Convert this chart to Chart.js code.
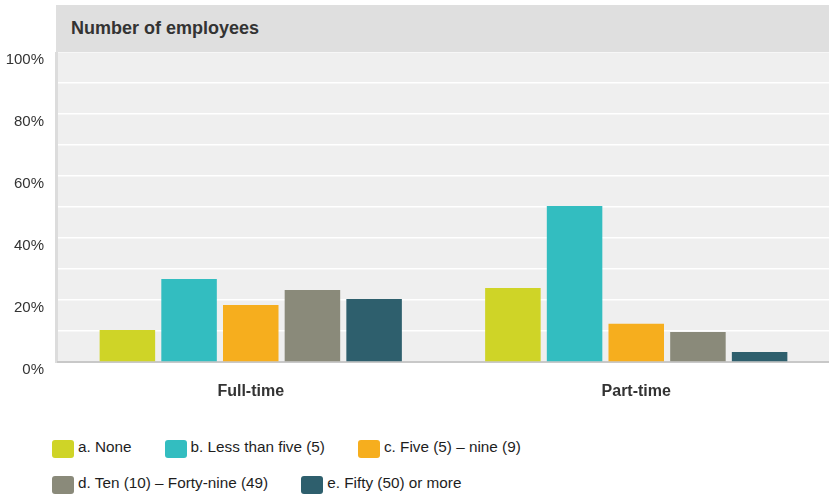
<!DOCTYPE html>
<html>
<head>
<meta charset="utf-8">
<script src="https://cdn.jsdelivr.net/npm/chart.js@4/dist/chart.umd.min.js"></script>
<style>
  body { margin: 0; background: #fff; font-family: "Liberation Sans", Arial, sans-serif; }
  #wrap { position: relative; width: 829px; height: 495px; }
  #box { position: absolute; left: 0; top: 0; width: 829px; height: 410px; }
  #title {
    position: absolute; left: 56px; top: 5px; width: 773px; height: 47px;
    background: #dfdfdf; color: #333; font-weight: bold; font-size: 18px;
    line-height: 47px; padding-left: 15px; box-sizing: border-box;
  }
  #legend {
    position: absolute; left: 52px; top: 436px; width: 580px;
    display: flex; flex-wrap: wrap; row-gap: 14px;
  }
  .item { display: flex; align-items: center; margin-right: 33px; height: 22px; font-size: 15.3px; color: #1e1e1e; }
  .swatch { width: 22px; height: 18px; border-radius: 3px; margin-right: 4px; margin-top: 4px; }
</style>
</head>
<body>
<div id="wrap">
  <div id="box"><canvas id="chart"></canvas></div>
  <div id="title">Number of employees</div>
  <div id="legend"></div>
</div>
<script>
var categories = ['Full-time', 'Part-time'];
var seriesNames = ['a. None', 'b. Less than five (5)', 'c. Five (5) \u2013 nine (9)',
                   'd. Ten (10) \u2013 Forty-nine (49)', 'e. Fifty (50) or more'];
var seriesColors = ['#cfd427', '#33bdc0', '#f6ae1e', '#8a8a7a', '#2e5f6d'];

var noneVals = [10.3, 23.9];
var lessFiveVals = [26.8, 50.3];
var fiveNineVals = [18.4, 12.3];
var tenFortyNineVals = [23.2, 9.7];
var fiftyPlusVals = [20.3, 3.2];

var allVals = [noneVals, lessFiveVals, fiveNineVals, tenFortyNineVals, fiftyPlusVals];

// plot background + left axis strip
var backdrop = {
    id: 'backdrop',
    beforeDraw: function (chart) {
        var ctx = chart.ctx, a = chart.chartArea;
        ctx.save();
        ctx.fillStyle = '#efefef';
        ctx.fillRect(a.left, a.top, a.right - a.left, a.bottom - a.top);
        ctx.fillStyle = '#dcdcdc';
        ctx.fillRect(a.left - 3, a.top, 3, a.bottom - a.top + 1);
        ctx.restore();
    }
};

var datasets = [];
for (let i = 0; i < seriesNames.length; i++) {
    datasets.push({
        label: seriesNames[i],
        data: allVals[i],
        backgroundColor: seriesColors[i],
        borderWidth: 0,
        categoryPercentage: 0.8,
        barPercentage: 0.9
    });
}

var ctx = document.getElementById('chart').getContext('2d');
new Chart(ctx, {
    type: 'bar',
    data: { labels: categories, datasets: datasets },
    options: {
        responsive: true,
        maintainAspectRatio: false,
        animation: false,
        layout: { padding: { top: 52, left: 0, right: 0, bottom: 0 } },
        plugins: {
            legend: { display: false },
            tooltip: { enabled: false }
        },
        scales: {
            x: {
                grid: { display: false, drawTicks: false },
                border: { display: true, color: '#c8c8c8', width: 2 },
                ticks: {
                    color: '#333',
                    padding: 20,
                    font: { family: '"Liberation Sans", Arial, sans-serif', size: 16, weight: 'bold' }
                },
                afterFit: function (scale) { scale.height = 48; }
            },
            y: {
                min: 0,
                max: 100,
                grid: { color: '#ffffff', lineWidth: 1.5, drawTicks: false },
                border: { display: false },
                ticks: {
                    stepSize: 10,
                    autoSkip: false,
                    padding: 14,
                    labelOffset: 8,
                    color: '#333',
                    font: { family: '"Liberation Sans", Arial, sans-serif', size: 15 },
                    callback: function (v) { return v % 20 === 0 ? v + '%' : ''; }
                },
                afterFit: function (scale) { scale.width = 58; }
            }
        }
    },
    plugins: [backdrop]
});

// html legend from the same series arrays
var legend = document.getElementById('legend');
seriesNames.forEach(function (name, i) {
    var item = document.createElement('div');
    item.className = 'item';
    item.innerHTML = '<span class="swatch" style="background:' + seriesColors[i] + '"></span>' + name;
    legend.appendChild(item);
});
</script>
</body>
</html>
